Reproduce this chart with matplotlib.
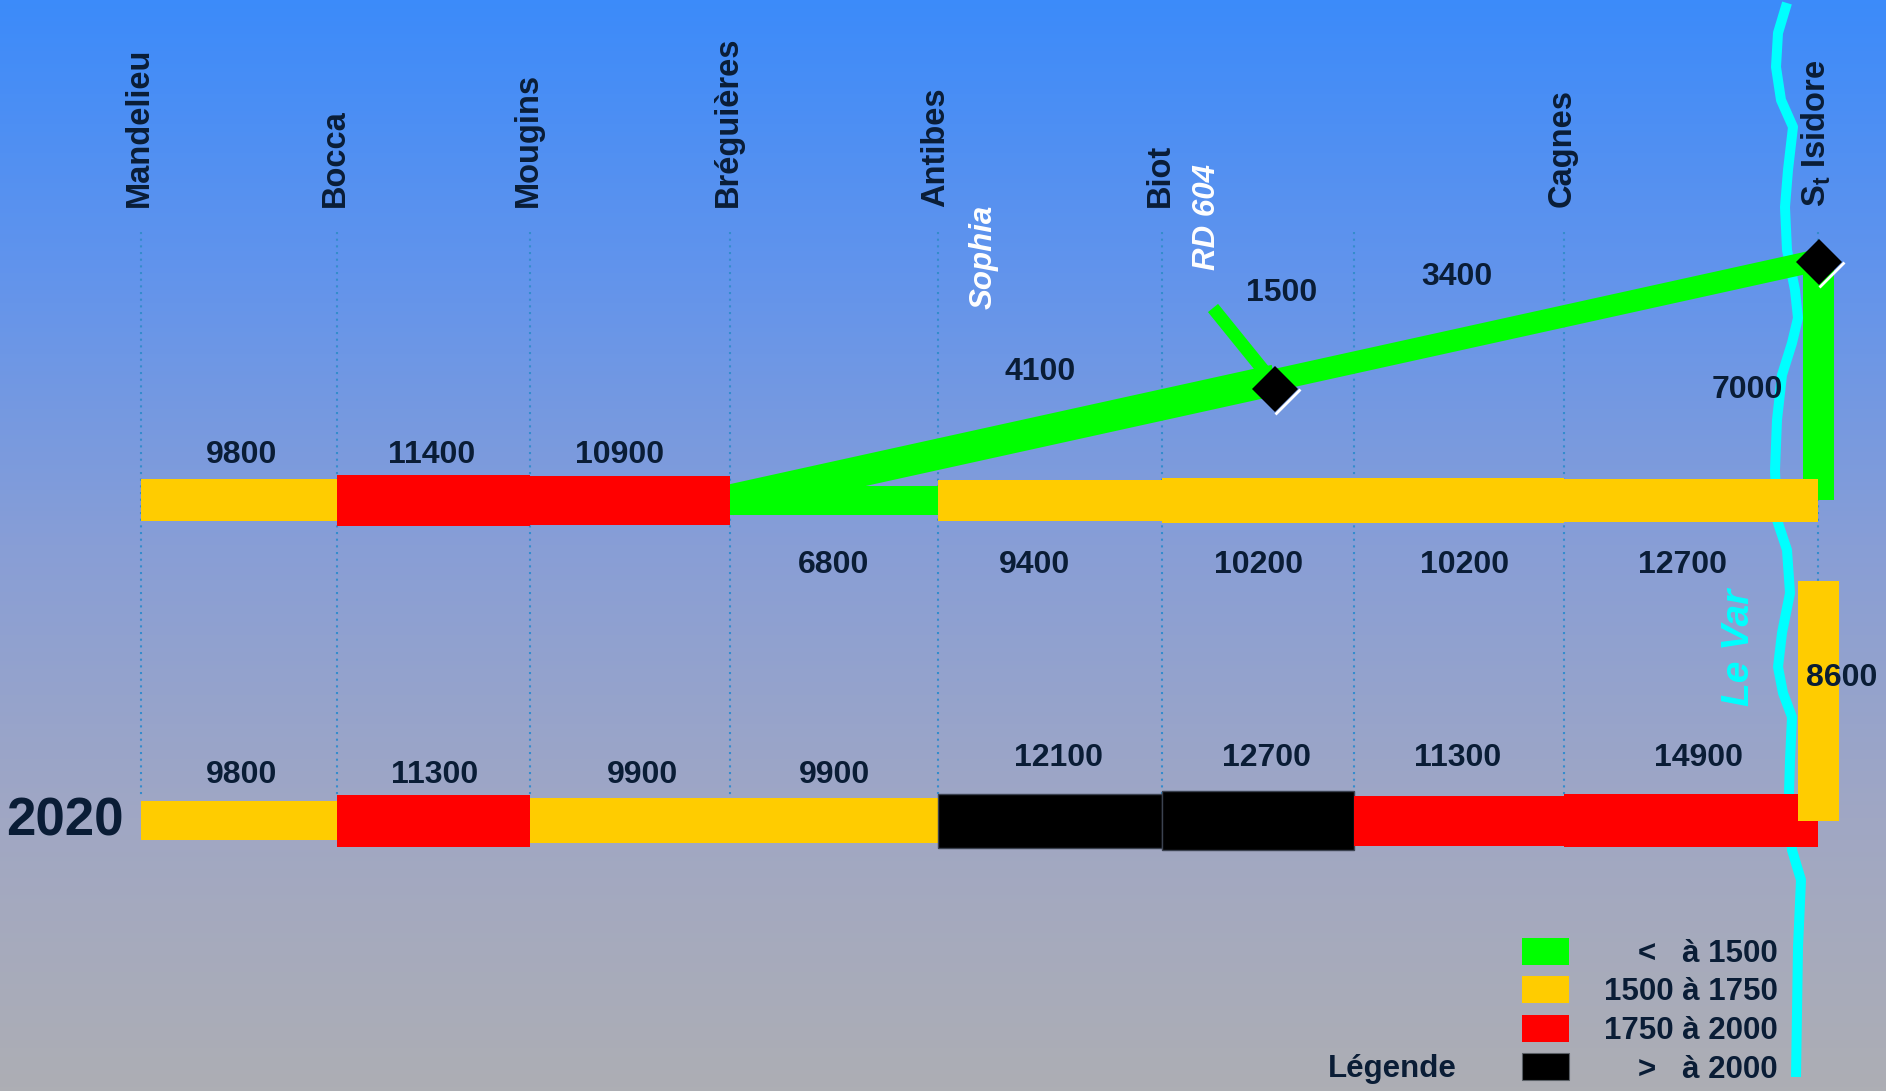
import numpy as np
import matplotlib
matplotlib.use('Agg')
import matplotlib.pyplot as plt
from matplotlib.patches import Polygon, Rectangle
from matplotlib.colors import LinearSegmentedColormap

plt.rcParams['font.family'] = ['Liberation Sans', 'DejaVu Sans']

# stations along the road (left -> right)
stations = ['Mandelieu', 'Bocca', 'Mougins', 'Bréguières', 'Antibes', 'Biot', '', 'Cagnes',
            r'S$_\mathregular{t}$ Isidore']
station_x = [141, 337, 530, 730, 938, 1162, 1354, 1564, 1818]

# upper row (future scheme) and 2020 row, one value per section
flow_top = [9800, 11400, 10900, 6800, 9400, 10200, 10200, 12700]
class_top = ['y', 'r', 'r', 'g', 'y', 'y', 'y', 'y']
flow_2020 = [9800, 11300, 9900, 9900, 12100, 12700, 11300, 14900]
class_2020 = ['y', 'r', 'y', 'y', 'k', 'k', 'r', 'r']

# branch links
flow_sophia = 4100
flow_rd604 = 1500
flow_link = 3400
flow_isidore_top = 7000
flow_isidore_2020 = 8600

legend_keys = ['g', 'y', 'r', 'k']
legend_labels = ['<   à 1500', '1500 à 1750', '1750 à 2000', '>   à 2000']

# river "Le Var" trace
river_x = [1787, 1778, 1776, 1781, 1793, 1788, 1785, 1787, 1795, 1798, 1792, 1782, 1777, 1775,
           1777, 1787, 1790, 1782, 1778, 1783, 1792, 1790, 1789, 1792, 1801, 1798, 1796]
river_y = [3, 33, 67, 100, 127, 170, 207, 250, 290, 318, 343, 375, 420, 470,
           520, 550, 593, 633, 667, 693, 717, 760, 793, 850, 880, 947, 1077]

colors = {'g': '#00ff00', 'y': '#ffcc00', 'r': '#ff0000', 'k': '#000000'}
navy = '#0a1d36'

# styling (pixels)
thick_top = [42, 51, 49, 29, 41, 45, 45, 43]
thick_2020 = [39, 52, 45, 45, 54, 59, 50, 53]
y_top, y_2020 = 500, 820.5
lab_y_top = [452, 452, 452, 562, 562, 562, 562, 562]
lab_y_2020 = [772, 772, 772, 772, 755, 755, 755, 755]
lab_dx_top = [3, -2, -10, 0, -16, 1, 6, -9]
lab_dx_2020 = [3, 1, 12, 0, 8, 9, -1, 7]

W, H = 1886, 1091
fig = plt.figure(figsize=(W / 100, H / 100), dpi=100)
ax = fig.add_axes([0, 0, 1, 1])
ax.set_xlim(0, W)
ax.set_ylim(H, 0)
ax.axis('off')

# background gradient
bg = LinearSegmentedColormap.from_list('bg', [(0, (60/255, 139/255, 250/255)),
                                              (0.25, (98/255, 148/255, 236/255)),
                                              (0.5, (136/255, 158/255, 214/255)),
                                              (0.75, (160/255, 167/255, 196/255)),
                                              (1, (173/255, 174/255, 180/255))])
ax.imshow(np.linspace(0, 1, 256)[:, None], cmap=bg, aspect='auto',
          extent=[0, W, H, 0], zorder=0)

# dotted station lines
ax.vlines(station_x, 232, 795, colors='#348ccc', linestyles=(0, (1, 2.2)), linewidth=1.5, zorder=1)

# river
ax.plot(river_x, river_y, color='#00ffff', lw=7.2, solid_capstyle='butt', zorder=2)
ax.text(1739, 647, 'Le Var', rotation=90, color='#00ffff', fontsize=28, fontweight='bold',
        style='italic', ha='center', va='center', zorder=2)


def band(p0, p1, w, color, z):
    p0, p1 = np.array(p0, float), np.array(p1, float)
    d = (p1 - p0) / np.hypot(*(p1 - p0))
    n = np.array([-d[1], d[0]]) * w / 2
    ax.add_patch(Polygon([p0 + n, p1 + n, p1 - n, p0 - n], closed=True,
                         facecolor=color, edgecolor='none', zorder=z))


def diamond(cx, cy, r=23):
    ax.add_patch(Polygon([(cx, cy - r), (cx + r, cy), (cx, cy + r), (cx - r, cy)],
                         closed=True, facecolor='black', edgecolor='none', zorder=6))
    ax.plot([cx + r + 1.5, cx + 1.5], [cy + 1.5, cy + r + 1.5], color='white', lw=2, zorder=6)


# green branch towards Sophia / St Isidore
band((730, 500), (1275, 380), 31, colors['g'], 3)
band((1275, 380), (1819, 260), 22, colors['g'], 3)
band((1213, 308), (1268, 376), 13, colors['g'], 3)
ax.bar(1818.5, 500 - 262, bottom=262, width=31, color=colors['g'], zorder=3)

# main rows
lefts = np.array(station_x[:-1])
widths = np.diff(station_x)
ax.barh(y_top, widths, left=lefts, height=thick_top,
        color=[colors[c] for c in class_top], zorder=4)
ax.barh(y_2020, widths, left=lefts, height=thick_2020,
        color=[colors[c] for c in class_2020],
        edgecolor=['#3b4250' if c == 'k' else 'none' for c in class_2020], linewidth=1, zorder=4)

# vertical 2020 link at St Isidore
ax.bar(1818.5, 821 - 581, bottom=581, width=41, color=colors['y'], zorder=5)

diamond(1275, 389)
diamond(1819, 262)

# value labels
lab = dict(fontsize=23, fontweight='bold', color=navy, ha='center', va='baseline', zorder=7)
centers = lefts + widths / 2
for i, v in enumerate(flow_top):
    ax.text(centers[i] + lab_dx_top[i], lab_y_top[i] + 11, str(v), **lab)
for i, v in enumerate(flow_2020):
    ax.text(centers[i] + lab_dx_2020[i], lab_y_2020[i] + 11, str(v), **lab)
ax.text(1040, 369 + 11, str(flow_sophia), **lab)
ax.text(1282, 290 + 11, str(flow_rd604), **lab)
ax.text(1457, 274 + 11, str(flow_link), **lab)
ax.text(1747, 387 + 11, str(flow_isidore_top), **lab)
ax.text(1842, 675 + 11, str(flow_isidore_2020), **lab)

# station names
for x, name in zip(station_x, stations):
    if name:
        ax.text(x - 2, 207, name, rotation=90, fontsize=23.5, fontweight='bold', color=navy,
                ha='center', va='bottom', zorder=7)

ax.text(984, 257, 'Sophia', rotation=90, fontsize=22.5, fontweight='bold', style='italic',
        color='white', ha='center', va='center', zorder=7)
ax.text(1207, 217, 'RD 604', rotation=90, fontsize=22.5, fontweight='bold', style='italic',
        color='white', ha='center', va='center', zorder=7)

ax.text(6, 835, '2020', fontsize=38, fontweight='bold', color=navy, ha='left', va='baseline', zorder=7)

# legend
for i, (k, t) in enumerate(zip(legend_keys, legend_labels)):
    yc = 951 + i * 38.5
    ax.add_patch(Rectangle((1522, yc - 13.5), 47, 27, facecolor=colors[k],
                           edgecolor='#5a5f66' if k == 'k' else 'none', lw=0.8, zorder=7))
    ax.text(1778, yc + 11, t, fontsize=22.5, fontweight='bold', color=navy,
            ha='right', va='baseline', zorder=7)
ax.text(1328, 1077, 'Légende', fontsize=22.5, fontweight='bold', color=navy,
        ha='left', va='baseline', zorder=7)

fig.savefig('out.png', dpi=100)
